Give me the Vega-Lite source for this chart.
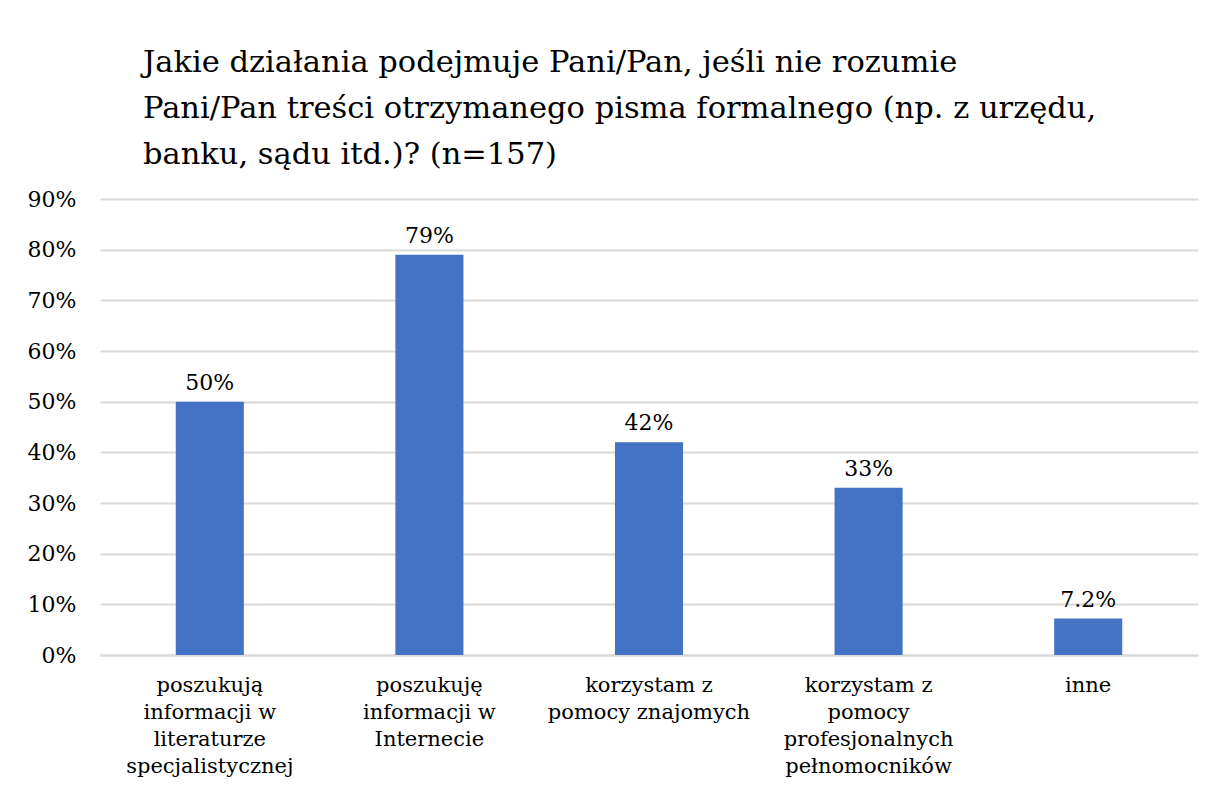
{
  "$schema": "https://vega.github.io/schema/vega-lite/v6.json",
  "width": 1098,
  "height": 456,
  "autosize": {"type": "none"},
  "padding": {"left": 100, "top": 199, "right": 14, "bottom": 146},
  "background": "white",
  "title": {
    "text": ["Jakie działania podejmuje Pani/Pan, jeśli nie rozumie", "Pani/Pan treści otrzymanego pisma formalnego (np. z urzędu,", "banku, sądu itd.)? (n=157)"],
    "anchor": "start",
    "frame": "group",
    "dx": 43,
    "offset": 18,
    "font": "DejaVu Serif",
    "fontSize": 30.5,
    "fontWeight": "normal",
    "color": "#000000",
    "lineHeight": 46
  },
  "data": {
    "values": [
      {"cat": "poszukują|informacji w|literaturze|specjalistycznej", "value": 0.50},
      {"cat": "poszukuję|informacji w|Internecie", "value": 0.79},
      {"cat": "korzystam z|pomocy znajomych", "value": 0.42},
      {"cat": "korzystam z|pomocy|profesjonalnych|pełnomocników", "value": 0.33},
      {"cat": "inne", "value": 0.072}
    ]
  },
  "encoding": {
    "x": {
      "field": "cat",
      "type": "nominal",
      "sort": null,
      "scale": {"paddingInner": 0.69, "paddingOuter": 0.345},
      "axis": {
        "title": null,
        "labelAngle": 0,
        "labelExpr": "split(datum.label, '|')",
        "labelFont": "DejaVu Serif",
        "labelFontSize": 21,
        "labelColor": "#000000",
        "labelLineHeight": 27,
        "labelPadding": 19,
        "labelLimit": 0,
        "ticks": false,
        "domainColor": "#d9d9d9",
        "domainWidth": 2
      }
    },
    "y": {
      "field": "value",
      "type": "quantitative",
      "scale": {"domain": [0, 0.9], "nice": false},
      "axis": {
        "title": null,
        "format": ".0%",
        "values": [0, 0.1, 0.2, 0.3, 0.4, 0.5, 0.6, 0.7, 0.8, 0.9],
        "labelFont": "DejaVu Serif",
        "labelFontSize": 22,
        "labelColor": "#000000",
        "labelPadding": 24,
        "ticks": false,
        "domain": false,
        "gridColor": "#d9d9d9",
        "gridWidth": 2
      }
    }
  },
  "layer": [
    {"mark": {"type": "bar", "color": "#4472C4"}},
    {
      "mark": {"type": "text", "font": "DejaVu Serif", "fontSize": 22, "color": "#000000", "baseline": "alphabetic", "dy": -12},
      "encoding": {"text": {"field": "value", "type": "quantitative", "format": ".2~%"}}
    }
  ],
  "config": {"view": {"stroke": null}}
}
